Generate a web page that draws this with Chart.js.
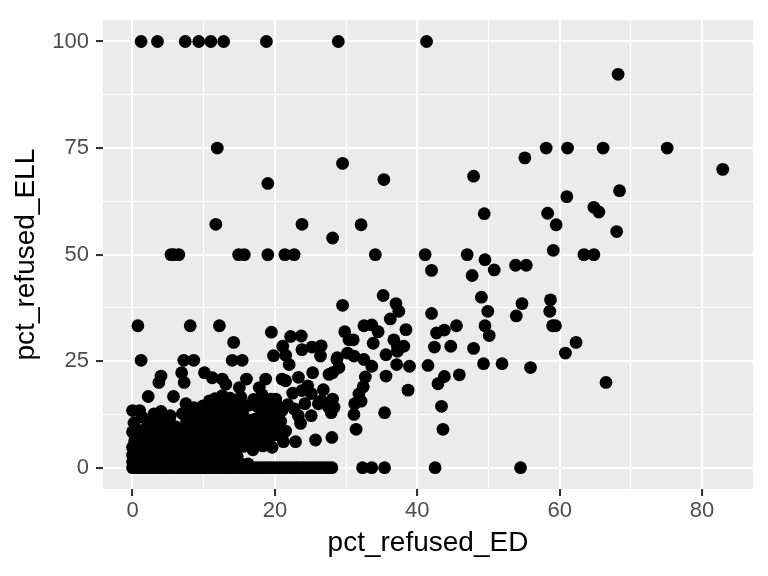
<!DOCTYPE html>
<html>
<head>
<meta charset="utf-8">
<script src="https://cdn.jsdelivr.net/npm/chart.js@4/dist/chart.umd.min.js"></script>
<style>
    html, body { margin: 0; padding: 0; background: #ffffff; }
</style>
</head>
<body>
<canvas id="scatterChart" width="768" height="576"></canvas>
<script>
// pct_refused_ED values of schools sitting on a fixed pct_refused_ELL level
const edAtZeroEll = [0, 0.5, 1, 1.5, 2, 2.5, 3, 3.5, 4, 4.5, 5, 5.5, 6, 6.5, 7, 7.5, 8, 8.5, 9, 9.5,
    10, 10.5, 11, 11.5, 12, 12.5, 13, 13.5, 14, 14.5, 15, 15.5, 16, 16.5, 17, 17.5, 18, 18.5, 19, 19.5,
    20, 20.5, 21, 21.5, 22, 22.5, 23, 23.5, 24, 24.5, 25, 25.5, 26, 26.5, 27, 27.5, 28,
    32.3, 33.6, 35.4, 42.5, 54.5];
const edAtHundredEll = [1.2, 3.5, 7.4, 9.3, 11.0, 12.8, 18.8, 28.9, 41.3];
const edAtSeventyFiveEll = [11.9, 58.1, 61.1, 66.1, 75.1];
const edAtFiftyEll = [5.4, 5.8, 6.5, 14.9, 15.7, 19.0, 21.4, 22.7, 34.1, 41.1, 47.0, 63.4, 64.8];
const edAtThirdEll = [0.75, 8.1, 12.2];
const edAtQuarterEll = [1.2, 7.2, 8.6, 14.0, 15.4];

// remaining schools as [pct_refused_ED, pct_refused_ELL]
const otherSchools = [
    [68.2, 92.3], [82.9, 70.0], [29.5, 71.4], [55.1, 72.7], [47.9, 68.4], [35.3, 67.6], [19.0, 66.7],
    [68.4, 65.0], [61.0, 63.6], [64.8, 61.1], [65.5, 60.0], [58.3, 59.7], [49.4, 59.6], [59.5, 57.0],
    [32.1, 57.0], [11.7, 57.1], [23.8, 57.1], [68.0, 55.4], [28.1, 53.9], [59.1, 51.0], [49.5, 48.8],
    [50.8, 46.4], [53.8, 47.5], [55.3, 47.5], [42.0, 46.3], [47.7, 45.1],
    [35.2, 40.4], [29.5, 38.1], [37.0, 38.5], [37.4, 36.7], [36.2, 34.9], [49.0, 40.0], [49.9, 36.7],
    [54.7, 38.5], [53.9, 35.6], [58.7, 39.4], [58.6, 36.7], [59.0, 33.3], [59.4, 33.3], [42.0, 36.2],
    [32.5, 33.3], [33.6, 33.5], [34.5, 31.9], [38.4, 32.4], [42.7, 31.6], [43.8, 32.3], [45.5, 33.3],
    [49.5, 33.3], [50.1, 31.0], [62.3, 29.4], [60.8, 26.9], [29.8, 31.9], [30.4, 30.0], [31.0, 30.0],
    [33.8, 29.2], [36.7, 30.0], [37.2, 28.5], [38.1, 28.5], [35.6, 26.5], [37.2, 27.3], [42.4, 28.3],
    [44.7, 28.5], [47.9, 28.0], [30.2, 26.9], [31.1, 26.2], [28.7, 25.4], [32.5, 25.4], [33.6, 23.8],
    [37.1, 24.2], [38.9, 23.8], [41.5, 24.0], [49.3, 24.4], [51.9, 24.4], [55.9, 23.5], [66.5, 20.0],
    [29.0, 23.5], [28.1, 22.3], [32.7, 21.3], [35.6, 21.5], [43.8, 21.4], [45.9, 21.8], [42.9, 19.7],
    [32.4, 19.0], [38.7, 18.2], [31.8, 17.3], [28.1, 16.1], [32.1, 15.6], [31.2, 15.0], [28.3, 14.2],
    [31.1, 12.5], [35.4, 12.9], [43.4, 14.4], [31.4, 9.0], [43.6, 9.0], [28.0, 7.1],
    [14.2, 29.4], [19.5, 31.8], [22.2, 30.8], [23.7, 30.9], [21.1, 28.5], [23.8, 27.7], [25.2, 28.3],
    [26.5, 28.6], [26.4, 26.2], [28.75, 25.8], [21.5, 26.4], [19.8, 26.3], [22.0, 24.2], [25.3, 22.3],
    [27.6, 21.9], [21.0, 20.8], [21.5, 20.4], [23.3, 21.2], [4.0, 21.5], [3.7, 20.0], [6.9, 22.3],
    [7.25, 20.0], [10.1, 22.3], [11.2, 21.1], [12.6, 20.8], [13.1, 19.6], [16.0, 20.8], [18.7, 20.8],
    [17.8, 18.8], [15.0, 18.8], [2.2, 16.7], [5.75, 16.7], [7.5, 15.0], [7.0, 12.7], [10.8, 15.7],
    [12.6, 16.9], [19.4, 16.1], [0.0, 13.4], [1.0, 13.4], [4.0, 13.2], [2.1, 11.1], [0.0, 8.4],
    [23.8, 18.1], [25.1, 17.4], [26.5, 15.7], [24.2, 15.0], [26.1, 15.0], [27.5, 14.3], [27.9, 12.9],
    [23.3, 12.2], [25.1, 12.2], [21.0, 13.4], [22.7, 13.8], [22.5, 17.5], [24.6, 19.2], [26.8, 18.3],
    [23.6, 10.4], [20.1, 16.1], [18.7, 15.7], [16.4, 14.7], [14.5, 15.0], [9.8, 12.9], [13.0, 12.9],
    [17.2, 11.4], [19.6, 12.1], [20.1, 7.7], [21.5, 8.6], [21.2, 6.1], [22.9, 6.1], [25.7, 6.5],
    [18.2, 6.9], [14.5, 4.5], [16.9, 4.2],
    // dense cloud near the origin
    [0.0, 1.4], [1.2, 1.6], [2.5, 1.3], [3.7, 1.5], [5.0, 1.2], [6.3, 1.6], [7.5, 1.4], [8.8, 1.3],
    [10.1, 1.5], [11.4, 1.2], [12.6, 1.6], [13.8, 1.3], [15.0, 1.1], [16.2, 0.9],
    [0.0, 3.0], [1.1, 2.9], [2.4, 3.2], [3.6, 2.8], [4.9, 3.1], [6.1, 2.9], [7.4, 3.3], [8.6, 2.8],
    [9.9, 3.0], [11.2, 3.2], [12.4, 2.7], [13.6, 3.1], [14.7, 2.6],
    [0.0, 4.8], [1.3, 4.5], [2.6, 4.9], [3.9, 4.4], [5.2, 4.7], [6.5, 4.3], [7.8, 4.8], [9.1, 4.5],
    [10.4, 4.9], [11.7, 4.4], [13.0, 4.7], [15.6, 5.0], [18.3, 5.1], [19.6, 4.8],
    [0.3, 6.3], [1.7, 6.0], [3.0, 6.5], [4.3, 6.1], [5.6, 6.4], [6.9, 5.9], [8.2, 6.3], [9.5, 6.0],
    [10.8, 6.5], [12.1, 6.1], [13.4, 6.4], [14.8, 6.0], [16.1, 6.6], [17.3, 6.2], [19.0, 6.0],
    [1.0, 7.6], [2.4, 8.0], [3.7, 7.7], [5.0, 8.1], [6.3, 7.6], [7.6, 7.9], [8.9, 7.5], [10.2, 8.0],
    [11.5, 7.7], [12.8, 8.1], [14.1, 7.6], [15.4, 8.0], [16.7, 7.7], [18.0, 8.2], [19.2, 7.8],
    [2.2, 9.4], [3.5, 9.8], [4.8, 9.2], [6.1, 9.6], [7.4, 9.3], [8.7, 9.8], [10.0, 9.2], [11.3, 9.6],
    [12.6, 9.4], [13.9, 9.9], [15.2, 9.3], [16.5, 9.7], [17.8, 9.2], [19.1, 9.6], [20.2, 9.9],
    [2.6, 10.8], [3.9, 11.3], [5.2, 10.9], [7.6, 11.0], [8.9, 11.4], [10.2, 10.8], [11.5, 11.2],
    [12.8, 10.9], [14.1, 11.3], [15.4, 10.7], [16.7, 11.1], [18.4, 10.8], [19.7, 11.2], [20.8, 10.9],
    [3.0, 12.6], [5.3, 12.2], [8.3, 12.4], [11.2, 12.8], [12.0, 12.3], [14.3, 12.6], [15.6, 12.2],
    [18.3, 12.9], [20.5, 12.4],
    [8.6, 14.1], [9.9, 14.5], [11.3, 14.2], [12.6, 14.6], [13.5, 14.0], [15.5, 13.9], [17.6, 14.3],
    [18.9, 14.0], [20.3, 14.6], [21.8, 14.8],
    [11.6, 16.2], [13.7, 16.3], [15.2, 16.6], [17.0, 16.0], [18.2, 17.1],
    [0.6, 2.2], [1.8, 3.8], [3.1, 2.1], [4.4, 3.9], [5.7, 2.2], [7.0, 3.9], [8.2, 2.1], [9.5, 3.8],
    [10.8, 2.2], [12.0, 3.9], [0.5, 5.6], [2.0, 7.0], [3.4, 5.5], [4.7, 7.0], [6.0, 5.4], [7.2, 7.0],
    [8.6, 5.5], [9.8, 7.0], [11.1, 5.5], [12.4, 7.0], [13.7, 5.5], [1.5, 8.8], [4.2, 8.7], [6.8, 8.6],
    [9.4, 8.7], [12.0, 8.6], [14.6, 8.8], [17.1, 8.6], [0.2, 10.5], [1.3, 11.9]
];

// axis breaks (major ones carry labels, the rest are minor grid lines)
const xGridValues = [0, 10, 20, 30, 40, 50, 60, 70, 80];
const xTickLabels = [0, 20, 40, 60, 80];
const yGridValues = [0, 12.5, 25, 37.5, 50, 62.5, 75, 87.5, 100];
const yTickLabels = [0, 25, 50, 75, 100];

const FONT = "'Liberation Sans', Arial, Helvetica, sans-serif";

/**
 * Build the scatter points from the named arrays
 */
function buildPoints() {
    const pts = [];
    const row = (xs, y) => xs.forEach(x => pts.push({ x, y }));
    row(edAtZeroEll, 0);
    row(edAtHundredEll, 100);
    row(edAtSeventyFiveEll, 75);
    row(edAtFiftyEll, 50);
    row(edAtThirdEll, 33.3);
    row(edAtQuarterEll, 25.2);
    otherSchools.forEach(([x, y]) => pts.push({ x, y }));
    return pts;
}

// grey panel like ggplot's theme_gray
const panelBackground = {
    id: 'panelBackground',
    beforeDraw(chart) {
        const { ctx, chartArea: a } = chart;
        ctx.save();
        ctx.fillStyle = '#ffffff';
        ctx.fillRect(0, 0, chart.width, chart.height);
        ctx.fillStyle = '#EBEBEB';
        ctx.fillRect(a.left, a.top, a.right - a.left, a.bottom - a.top);
        ctx.restore();
    }
};

function axisOptions(gridValues, labelValues, titleText, isX) {
    const isMajor = (c) => c.tick && labelValues.includes(c.tick.value);
    return {
        type: 'linear',
        min: isX ? -4.15 : -5,
        max: isX ? 87.15 : 105,
        afterBuildTicks: (scale) => {
            scale.ticks = gridValues.map(v => ({ value: v }));
        },
        afterFit: (scale) => {
            if (isX) scale.height = 87;
            else scale.width = 103;
        },
        border: { display: false },
        grid: {
            color: '#ffffff',
            lineWidth: (c) => isMajor(c) ? 2.1 : 1.05,
            drawTicks: true,
            tickLength: 7,
            tickWidth: 2.1,
            tickColor: (c) => isMajor(c) ? '#333333' : 'rgba(0,0,0,0)'
        },
        ticks: {
            autoSkip: false,
            maxRotation: 0,
            padding: isX ? 2 : 7,
            color: '#4D4D4D',
            font: { family: FONT, size: 22 },
            callback: (v) => labelValues.includes(v) ? String(v) : ''
        },
        title: {
            display: true,
            text: titleText,
            color: '#000000',
            font: { family: FONT, size: 28 },
            padding: isX ? { top: 0, bottom: 16 } : { top: 9, bottom: 0 }
        }
    };
}

new Chart(document.getElementById('scatterChart'), {
    type: 'scatter',
    data: {
        datasets: [{
            label: 'schools',
            data: buildPoints(),
            backgroundColor: '#000000',
            borderWidth: 0,
            pointRadius: 6.4,
            pointHoverRadius: 6.4
        }]
    },
    options: {
        responsive: false,
        animation: false,
        events: [],
        layout: { padding: { top: 15, right: 15, left: 0, bottom: 0 } },
        plugins: {
            legend: { display: false },
            tooltip: { enabled: false }
        },
        scales: {
            x: axisOptions(xGridValues, xTickLabels, 'pct_refused_ED', true),
            y: axisOptions(yGridValues, yTickLabels, 'pct_refused_ELL', false)
        }
    },
    plugins: [panelBackground]
});
</script>
</body>
</html>
